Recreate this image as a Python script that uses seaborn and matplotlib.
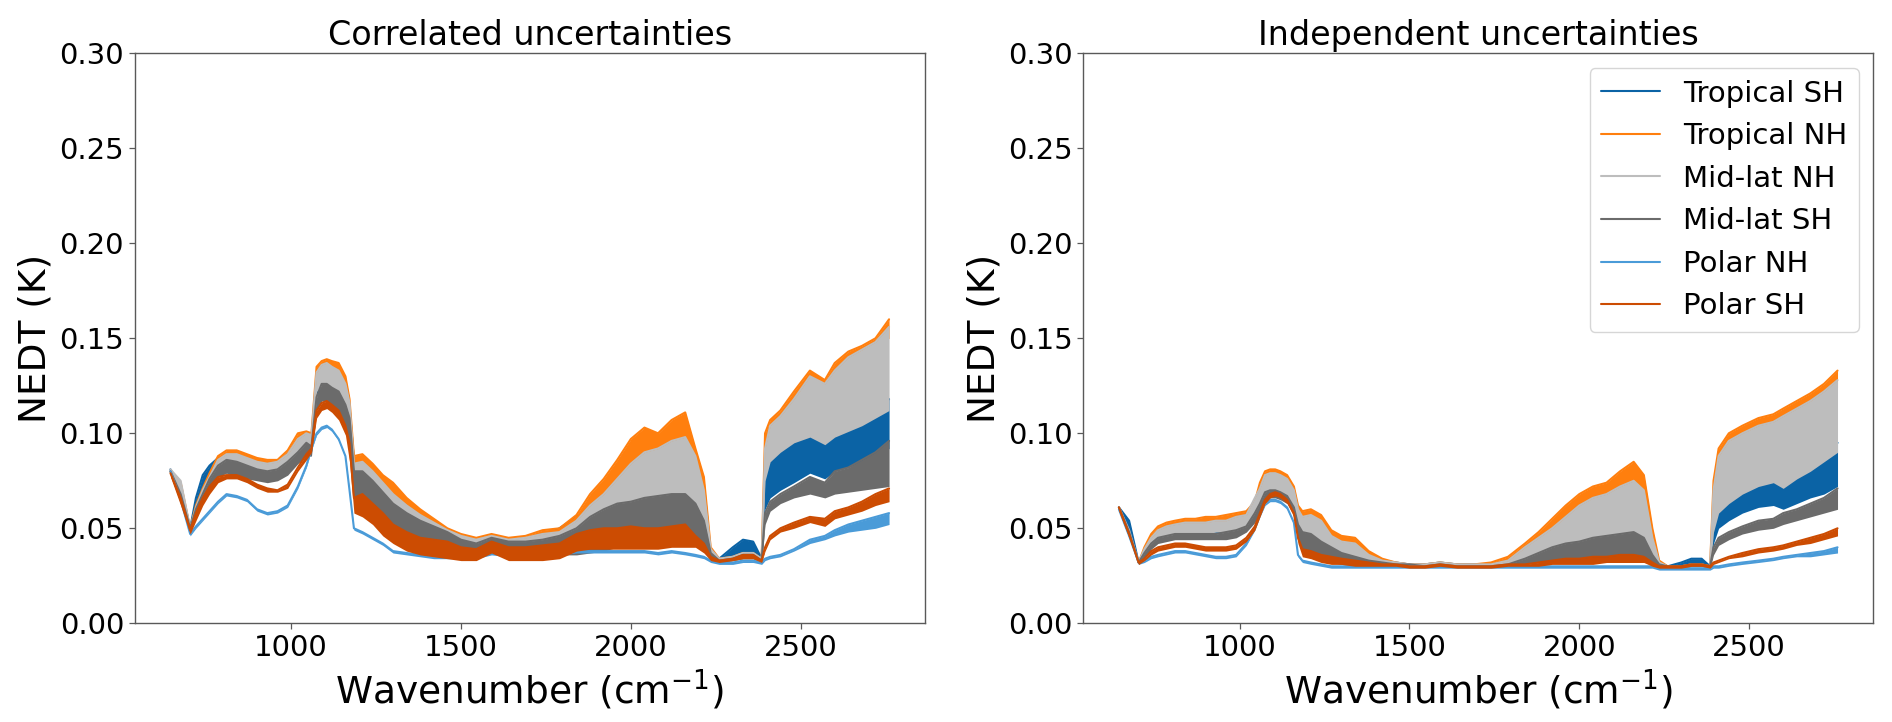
import matplotlib
matplotlib.use("Agg")
import pandas as pd
import matplotlib.pyplot as plt
import seaborn as sns

# wavenumber grid (cm-1) the envelopes were read at
WAVENUMBER = [
    645, 675, 703, 720, 740, 760, 785, 810, 840, 870,
    900, 930, 960, 990, 1020, 1045, 1060, 1075, 1090, 1105,
    1120, 1140, 1160, 1172, 1185, 1210, 1240, 1270, 1300, 1340,
    1380, 1420, 1460, 1500, 1545, 1590, 1640, 1690, 1740, 1790,
    1840, 1880, 1920, 1960, 2000, 2040, 2080, 2120, 2160, 2190,
    2215, 2235, 2260, 2300, 2330, 2360, 2385, 2395, 2410, 2440,
    2480, 2527, 2571, 2600, 2640, 2680, 2720, 2760,
]

REGIONS = ["Tropical SH", "Tropical NH", "Mid-lat NH", "Mid-lat SH", "Polar NH", "Polar SH"]
COLORS = ["#0b63a5", "#ff7f0e", "#bdbdbd", "#6b6b6b", "#4a9bd8", "#cc4c02"]

# ---- correlated uncertainties: upper / lower envelope of each spectrum (K)
corr_tsh_hi = [
    0.081, 0.072, 0.050, 0.066, 0.078, 0.083, 0.087, 0.088, 0.087, 0.086,
    0.084, 0.083, 0.084, 0.088, 0.093, 0.098, 0.096, 0.130, 0.132, 0.133,
    0.131, 0.128, 0.122, 0.114, 0.086, 0.086, 0.079, 0.072, 0.065, 0.059,
    0.055, 0.052, 0.049, 0.045, 0.043, 0.045, 0.044, 0.044, 0.046, 0.050,
    0.056, 0.062, 0.066, 0.068, 0.070, 0.074, 0.078, 0.080, 0.082, 0.076,
    0.060, 0.038, 0.034, 0.040, 0.044, 0.043, 0.034, 0.078, 0.087, 0.092,
    0.097, 0.100, 0.096, 0.100, 0.104, 0.108, 0.112, 0.118]
corr_tsh_lo = [
    0.078, 0.064, 0.048, 0.060, 0.070, 0.078, 0.082, 0.083, 0.082, 0.080,
    0.078, 0.077, 0.078, 0.081, 0.087, 0.091, 0.090, 0.120, 0.122, 0.122,
    0.120, 0.117, 0.108, 0.098, 0.064, 0.064, 0.058, 0.052, 0.047, 0.042,
    0.040, 0.038, 0.037, 0.035, 0.035, 0.039, 0.035, 0.035, 0.035, 0.036,
    0.037, 0.038, 0.039, 0.041, 0.042, 0.043, 0.045, 0.046, 0.047, 0.045,
    0.041, 0.034, 0.032, 0.034, 0.036, 0.036, 0.032, 0.060, 0.066, 0.070,
    0.074, 0.079, 0.076, 0.080, 0.082, 0.085, 0.088, 0.092]
corr_tnh_hi = [
    0.080, 0.074, 0.050, 0.062, 0.071, 0.079, 0.088, 0.091, 0.091, 0.089,
    0.087, 0.086, 0.086, 0.091, 0.100, 0.101, 0.100, 0.135, 0.138, 0.139,
    0.138, 0.137, 0.130, 0.118, 0.088, 0.089, 0.084, 0.078, 0.074, 0.066,
    0.060, 0.055, 0.050, 0.047, 0.045, 0.047, 0.045, 0.046, 0.049, 0.050,
    0.057, 0.068, 0.076, 0.086, 0.097, 0.103, 0.100, 0.107, 0.111, 0.092,
    0.077, 0.040, 0.034, 0.035, 0.037, 0.037, 0.034, 0.100, 0.107, 0.112,
    0.122, 0.133, 0.128, 0.137, 0.143, 0.146, 0.150, 0.160]
corr_tnh_lo = [
    0.078, 0.064, 0.048, 0.060, 0.068, 0.076, 0.084, 0.087, 0.087, 0.085,
    0.083, 0.082, 0.083, 0.086, 0.093, 0.095, 0.094, 0.125, 0.128, 0.129,
    0.127, 0.125, 0.115, 0.100, 0.068, 0.066, 0.060, 0.054, 0.048, 0.043,
    0.040, 0.038, 0.037, 0.035, 0.035, 0.039, 0.035, 0.035, 0.035, 0.036,
    0.037, 0.038, 0.040, 0.041, 0.042, 0.043, 0.045, 0.046, 0.047, 0.045,
    0.041, 0.034, 0.032, 0.033, 0.034, 0.034, 0.032, 0.090, 0.100, 0.106,
    0.116, 0.126, 0.124, 0.130, 0.136, 0.140, 0.144, 0.150]
corr_mnh_hi = [
    0.081, 0.075, 0.050, 0.061, 0.070, 0.077, 0.086, 0.089, 0.089, 0.087,
    0.085, 0.084, 0.085, 0.089, 0.097, 0.100, 0.099, 0.132, 0.136, 0.137,
    0.135, 0.133, 0.126, 0.116, 0.084, 0.085, 0.080, 0.074, 0.068, 0.062,
    0.057, 0.053, 0.049, 0.046, 0.044, 0.046, 0.044, 0.045, 0.047, 0.048,
    0.054, 0.062, 0.068, 0.076, 0.084, 0.090, 0.092, 0.096, 0.098, 0.088,
    0.070, 0.039, 0.034, 0.035, 0.037, 0.037, 0.034, 0.092, 0.104, 0.109,
    0.118, 0.130, 0.126, 0.133, 0.140, 0.144, 0.148, 0.156]
corr_mnh_lo = [
    0.078, 0.064, 0.048, 0.058, 0.066, 0.073, 0.082, 0.084, 0.083, 0.081,
    0.079, 0.078, 0.079, 0.083, 0.090, 0.093, 0.092, 0.122, 0.124, 0.124,
    0.122, 0.119, 0.110, 0.100, 0.064, 0.064, 0.058, 0.052, 0.047, 0.042,
    0.040, 0.038, 0.037, 0.035, 0.035, 0.039, 0.035, 0.035, 0.035, 0.036,
    0.037, 0.038, 0.040, 0.041, 0.042, 0.043, 0.045, 0.046, 0.047, 0.045,
    0.041, 0.034, 0.032, 0.033, 0.034, 0.034, 0.032, 0.075, 0.085, 0.090,
    0.095, 0.098, 0.094, 0.098, 0.101, 0.104, 0.108, 0.112]
corr_msh_hi = [
    0.080, 0.068, 0.050, 0.060, 0.068, 0.076, 0.083, 0.086, 0.085, 0.083,
    0.081, 0.080, 0.081, 0.085, 0.090, 0.095, 0.093, 0.119, 0.126, 0.126,
    0.124, 0.122, 0.115, 0.108, 0.080, 0.080, 0.075, 0.069, 0.063, 0.058,
    0.054, 0.051, 0.048, 0.044, 0.042, 0.045, 0.043, 0.043, 0.044, 0.046,
    0.050, 0.056, 0.060, 0.063, 0.064, 0.066, 0.067, 0.068, 0.068, 0.063,
    0.054, 0.037, 0.033, 0.034, 0.036, 0.036, 0.033, 0.058, 0.064, 0.068,
    0.072, 0.077, 0.074, 0.080, 0.082, 0.086, 0.090, 0.096]
corr_msh_lo = [
    0.078, 0.063, 0.048, 0.056, 0.064, 0.071, 0.077, 0.079, 0.077, 0.076,
    0.075, 0.074, 0.075, 0.078, 0.084, 0.088, 0.088, 0.112, 0.117, 0.117,
    0.115, 0.112, 0.104, 0.095, 0.062, 0.062, 0.056, 0.050, 0.046, 0.041,
    0.039, 0.038, 0.037, 0.035, 0.035, 0.039, 0.035, 0.035, 0.035, 0.036,
    0.036, 0.037, 0.038, 0.040, 0.041, 0.042, 0.044, 0.045, 0.046, 0.044,
    0.040, 0.034, 0.032, 0.033, 0.034, 0.034, 0.032, 0.052, 0.059, 0.063,
    0.066, 0.068, 0.066, 0.068, 0.069, 0.070, 0.071, 0.072]
corr_pnh_hi = [
    0.080, 0.065, 0.047, 0.051, 0.055, 0.059, 0.064, 0.068, 0.067, 0.065,
    0.060, 0.058, 0.059, 0.062, 0.072, 0.083, 0.092, 0.100, 0.103, 0.104,
    0.102, 0.097, 0.088, 0.070, 0.050, 0.048, 0.045, 0.042, 0.038, 0.037,
    0.036, 0.035, 0.035, 0.035, 0.035, 0.037, 0.036, 0.036, 0.037, 0.037,
    0.038, 0.038, 0.038, 0.038, 0.038, 0.038, 0.037, 0.038, 0.037, 0.036,
    0.035, 0.033, 0.032, 0.032, 0.033, 0.033, 0.032, 0.034, 0.035, 0.036,
    0.039, 0.044, 0.046, 0.049, 0.052, 0.054, 0.056, 0.058]
corr_pnh_lo = [
    0.078, 0.063, 0.046, 0.050, 0.054, 0.058, 0.063, 0.067, 0.066, 0.064,
    0.059, 0.057, 0.058, 0.061, 0.071, 0.082, 0.091, 0.099, 0.102, 0.103,
    0.101, 0.096, 0.087, 0.069, 0.049, 0.047, 0.044, 0.041, 0.037, 0.036,
    0.035, 0.034, 0.034, 0.034, 0.034, 0.036, 0.035, 0.035, 0.036, 0.036,
    0.037, 0.037, 0.037, 0.037, 0.037, 0.037, 0.036, 0.037, 0.036, 0.035,
    0.034, 0.032, 0.031, 0.031, 0.032, 0.032, 0.031, 0.033, 0.034, 0.035,
    0.038, 0.042, 0.044, 0.046, 0.048, 0.049, 0.050, 0.052]
corr_psh_hi = [
    0.079, 0.066, 0.049, 0.058, 0.066, 0.072, 0.077, 0.078, 0.078, 0.076,
    0.073, 0.071, 0.070, 0.073, 0.082, 0.089, 0.092, 0.112, 0.116, 0.117,
    0.115, 0.112, 0.104, 0.095, 0.066, 0.068, 0.063, 0.058, 0.052, 0.048,
    0.045, 0.044, 0.043, 0.040, 0.039, 0.043, 0.040, 0.040, 0.041, 0.042,
    0.047, 0.049, 0.050, 0.050, 0.051, 0.050, 0.050, 0.051, 0.052, 0.046,
    0.042, 0.035, 0.033, 0.034, 0.036, 0.036, 0.033, 0.040, 0.046, 0.050,
    0.053, 0.056, 0.055, 0.059, 0.061, 0.064, 0.068, 0.071]
corr_psh_lo = [
    0.077, 0.062, 0.047, 0.054, 0.062, 0.068, 0.074, 0.076, 0.076, 0.074,
    0.071, 0.069, 0.069, 0.071, 0.080, 0.086, 0.090, 0.108, 0.112, 0.113,
    0.111, 0.107, 0.099, 0.085, 0.058, 0.056, 0.052, 0.046, 0.042, 0.038,
    0.036, 0.035, 0.034, 0.033, 0.033, 0.037, 0.033, 0.033, 0.033, 0.034,
    0.038, 0.039, 0.039, 0.039, 0.039, 0.039, 0.039, 0.040, 0.040, 0.040,
    0.037, 0.033, 0.032, 0.033, 0.034, 0.034, 0.032, 0.038, 0.044, 0.048,
    0.050, 0.053, 0.051, 0.055, 0.057, 0.059, 0.062, 0.064]

# ---- independent uncertainties
ind_tsh_hi = [
    0.061, 0.054, 0.032, 0.038, 0.044, 0.047, 0.049, 0.050, 0.050, 0.050,
    0.050, 0.050, 0.051, 0.052, 0.054, 0.060, 0.068, 0.074, 0.076, 0.076,
    0.075, 0.073, 0.067, 0.058, 0.053, 0.054, 0.050, 0.045, 0.042, 0.040,
    0.036, 0.033, 0.032, 0.031, 0.031, 0.032, 0.031, 0.031, 0.031, 0.033,
    0.038, 0.043, 0.047, 0.052, 0.056, 0.060, 0.062, 0.066, 0.068, 0.063,
    0.042, 0.032, 0.030, 0.032, 0.034, 0.034, 0.030, 0.050, 0.060, 0.065,
    0.070, 0.074, 0.076, 0.073, 0.078, 0.082, 0.088, 0.095]
ind_tsh_lo = [
    0.059, 0.045, 0.031, 0.035, 0.040, 0.044, 0.046, 0.047, 0.047, 0.047,
    0.047, 0.047, 0.048, 0.049, 0.051, 0.055, 0.062, 0.070, 0.071, 0.071,
    0.070, 0.068, 0.060, 0.045, 0.040, 0.039, 0.036, 0.034, 0.032, 0.031,
    0.030, 0.030, 0.030, 0.030, 0.030, 0.031, 0.030, 0.030, 0.030, 0.030,
    0.031, 0.032, 0.032, 0.033, 0.033, 0.034, 0.034, 0.035, 0.035, 0.034,
    0.032, 0.030, 0.029, 0.030, 0.031, 0.031, 0.029, 0.042, 0.050, 0.054,
    0.058, 0.061, 0.062, 0.060, 0.063, 0.066, 0.068, 0.072]
ind_tnh_hi = [
    0.061, 0.048, 0.032, 0.040, 0.047, 0.051, 0.053, 0.054, 0.055, 0.055,
    0.056, 0.056, 0.057, 0.058, 0.059, 0.064, 0.074, 0.080, 0.081, 0.081,
    0.080, 0.078, 0.072, 0.062, 0.059, 0.060, 0.057, 0.049, 0.046, 0.045,
    0.038, 0.034, 0.032, 0.031, 0.031, 0.032, 0.031, 0.031, 0.032, 0.035,
    0.042, 0.048, 0.055, 0.062, 0.068, 0.072, 0.074, 0.080, 0.085, 0.078,
    0.050, 0.033, 0.030, 0.030, 0.031, 0.031, 0.030, 0.075, 0.092, 0.100,
    0.104, 0.108, 0.110, 0.113, 0.117, 0.121, 0.126, 0.133]
ind_tnh_lo = [
    0.059, 0.045, 0.031, 0.037, 0.044, 0.048, 0.050, 0.051, 0.052, 0.052,
    0.052, 0.053, 0.053, 0.055, 0.056, 0.060, 0.069, 0.075, 0.077, 0.077,
    0.076, 0.074, 0.067, 0.055, 0.045, 0.044, 0.040, 0.036, 0.033, 0.032,
    0.031, 0.030, 0.030, 0.030, 0.030, 0.031, 0.030, 0.030, 0.030, 0.031,
    0.033, 0.035, 0.036, 0.038, 0.040, 0.042, 0.044, 0.046, 0.048, 0.045,
    0.036, 0.031, 0.029, 0.029, 0.030, 0.030, 0.029, 0.068, 0.086, 0.094,
    0.098, 0.102, 0.104, 0.107, 0.110, 0.114, 0.118, 0.124]
ind_mnh_hi = [
    0.061, 0.049, 0.032, 0.039, 0.045, 0.049, 0.051, 0.052, 0.053, 0.053,
    0.053, 0.054, 0.054, 0.056, 0.057, 0.066, 0.071, 0.078, 0.079, 0.079,
    0.078, 0.076, 0.070, 0.060, 0.056, 0.057, 0.054, 0.046, 0.043, 0.042,
    0.036, 0.033, 0.032, 0.031, 0.031, 0.032, 0.031, 0.031, 0.031, 0.033,
    0.040, 0.045, 0.050, 0.056, 0.062, 0.066, 0.068, 0.072, 0.075, 0.070,
    0.045, 0.032, 0.030, 0.030, 0.031, 0.031, 0.030, 0.070, 0.088, 0.096,
    0.100, 0.104, 0.106, 0.109, 0.113, 0.117, 0.122, 0.128]
ind_mnh_lo = [
    0.059, 0.045, 0.031, 0.035, 0.040, 0.044, 0.046, 0.047, 0.047, 0.047,
    0.047, 0.048, 0.048, 0.049, 0.050, 0.055, 0.062, 0.068, 0.070, 0.070,
    0.069, 0.067, 0.060, 0.045, 0.040, 0.039, 0.036, 0.034, 0.032, 0.031,
    0.030, 0.030, 0.030, 0.030, 0.030, 0.031, 0.030, 0.030, 0.030, 0.030,
    0.031, 0.032, 0.033, 0.034, 0.035, 0.036, 0.037, 0.038, 0.039, 0.037,
    0.033, 0.030, 0.029, 0.029, 0.030, 0.030, 0.029, 0.048, 0.058, 0.063,
    0.068, 0.072, 0.074, 0.071, 0.076, 0.080, 0.085, 0.090]
ind_msh_hi = [
    0.061, 0.048, 0.032, 0.037, 0.042, 0.045, 0.046, 0.047, 0.047, 0.047,
    0.047, 0.047, 0.048, 0.049, 0.051, 0.058, 0.063, 0.069, 0.070, 0.070,
    0.069, 0.067, 0.061, 0.052, 0.048, 0.047, 0.043, 0.040, 0.037, 0.035,
    0.033, 0.032, 0.031, 0.031, 0.030, 0.031, 0.030, 0.030, 0.030, 0.031,
    0.034, 0.037, 0.040, 0.042, 0.043, 0.045, 0.046, 0.047, 0.048, 0.045,
    0.036, 0.031, 0.030, 0.030, 0.031, 0.031, 0.030, 0.040, 0.045, 0.048,
    0.051, 0.054, 0.055, 0.058, 0.060, 0.063, 0.066, 0.071]
ind_msh_lo = [
    0.059, 0.045, 0.031, 0.034, 0.039, 0.042, 0.043, 0.044, 0.044, 0.044,
    0.044, 0.044, 0.044, 0.045, 0.048, 0.053, 0.058, 0.064, 0.066, 0.066,
    0.065, 0.063, 0.057, 0.045, 0.039, 0.037, 0.034, 0.032, 0.031, 0.030,
    0.030, 0.030, 0.030, 0.030, 0.030, 0.030, 0.030, 0.030, 0.030, 0.030,
    0.031, 0.032, 0.033, 0.034, 0.034, 0.035, 0.035, 0.036, 0.036, 0.035,
    0.032, 0.030, 0.029, 0.029, 0.030, 0.030, 0.029, 0.036, 0.041, 0.044,
    0.047, 0.049, 0.050, 0.052, 0.054, 0.056, 0.058, 0.060]
ind_pnh_hi = [
    0.060, 0.046, 0.032, 0.033, 0.035, 0.036, 0.037, 0.038, 0.038, 0.037,
    0.036, 0.035, 0.035, 0.036, 0.042, 0.050, 0.057, 0.063, 0.065, 0.065,
    0.064, 0.061, 0.053, 0.036, 0.033, 0.032, 0.031, 0.030, 0.030, 0.030,
    0.030, 0.030, 0.030, 0.030, 0.030, 0.030, 0.030, 0.030, 0.030, 0.030,
    0.030, 0.030, 0.030, 0.030, 0.030, 0.030, 0.030, 0.030, 0.030, 0.030,
    0.030, 0.029, 0.029, 0.029, 0.029, 0.029, 0.029, 0.030, 0.030, 0.031,
    0.032, 0.033, 0.034, 0.035, 0.036, 0.037, 0.038, 0.040]
ind_pnh_lo = [
    0.059, 0.045, 0.031, 0.032, 0.034, 0.035, 0.036, 0.037, 0.037, 0.036,
    0.035, 0.034, 0.034, 0.035, 0.041, 0.049, 0.056, 0.062, 0.064, 0.064,
    0.063, 0.060, 0.052, 0.035, 0.032, 0.031, 0.030, 0.029, 0.029, 0.029,
    0.029, 0.029, 0.029, 0.029, 0.029, 0.029, 0.029, 0.029, 0.029, 0.029,
    0.029, 0.029, 0.029, 0.029, 0.029, 0.029, 0.029, 0.029, 0.029, 0.029,
    0.029, 0.028, 0.028, 0.028, 0.028, 0.028, 0.028, 0.029, 0.029, 0.030,
    0.031, 0.032, 0.033, 0.034, 0.035, 0.035, 0.036, 0.037]
ind_psh_hi = [
    0.061, 0.047, 0.032, 0.034, 0.038, 0.040, 0.041, 0.042, 0.042, 0.041,
    0.040, 0.040, 0.040, 0.041, 0.045, 0.051, 0.058, 0.065, 0.068, 0.069,
    0.068, 0.065, 0.058, 0.045, 0.039, 0.038, 0.036, 0.035, 0.034, 0.033,
    0.032, 0.031, 0.031, 0.030, 0.030, 0.031, 0.030, 0.030, 0.030, 0.031,
    0.031, 0.032, 0.033, 0.034, 0.034, 0.035, 0.035, 0.036, 0.036, 0.035,
    0.032, 0.030, 0.030, 0.030, 0.031, 0.031, 0.030, 0.032, 0.033, 0.035,
    0.037, 0.039, 0.040, 0.041, 0.043, 0.045, 0.047, 0.050]
ind_psh_lo = [
    0.059, 0.045, 0.031, 0.033, 0.036, 0.038, 0.039, 0.040, 0.040, 0.039,
    0.038, 0.038, 0.038, 0.039, 0.043, 0.049, 0.056, 0.063, 0.066, 0.067,
    0.066, 0.063, 0.056, 0.042, 0.035, 0.034, 0.032, 0.031, 0.031, 0.030,
    0.030, 0.030, 0.030, 0.029, 0.029, 0.030, 0.029, 0.029, 0.029, 0.030,
    0.030, 0.030, 0.031, 0.031, 0.031, 0.031, 0.032, 0.032, 0.032, 0.032,
    0.030, 0.029, 0.029, 0.029, 0.030, 0.030, 0.029, 0.031, 0.032, 0.034,
    0.035, 0.037, 0.038, 0.039, 0.041, 0.042, 0.044, 0.046]

CORRELATED = [(corr_tsh_hi, corr_tsh_lo), (corr_tnh_hi, corr_tnh_lo),
              (corr_mnh_hi, corr_mnh_lo), (corr_msh_hi, corr_msh_lo),
              (corr_pnh_hi, corr_pnh_lo), (corr_psh_hi, corr_psh_lo)]
INDEPENDENT = [(ind_tsh_hi, ind_tsh_lo), (ind_tnh_hi, ind_tnh_lo),
               (ind_mnh_hi, ind_mnh_lo), (ind_msh_hi, ind_msh_lo),
               (ind_pnh_hi, ind_pnh_lo), (ind_psh_hi, ind_psh_lo)]


def to_frame(envelopes):
    rows = []
    for region, (hi, lo) in zip(REGIONS, envelopes):
        assert len(hi) == len(WAVENUMBER) and len(lo) == len(WAVENUMBER), region
        for wn, h, l in zip(WAVENUMBER, hi, lo):
            rows.append((region, wn, h))
            rows.append((region, wn, l))
    return pd.DataFrame(rows, columns=["region", "wavenumber", "nedt"])


def draw_panel(ax, df, title, legend=False):
    for i, (region, color) in enumerate(zip(REGIONS, COLORS)):
        sub = df[df["region"] == region]
        # line follows the spike tops, band fills down to the spike bottoms
        sns.lineplot(data=sub, x="wavenumber", y="nedt", ax=ax,
                     estimator="max", errorbar=("pi", 100),
                     color=color, linewidth=1.5, label=region,
                     zorder=2 + i, legend=False,
                     err_kws={"alpha": 1, "linewidth": 0, "zorder": 2 + i})
    ax.set_ylim(0, 0.30)
    ax.set_yticks([0.0, 0.05, 0.10, 0.15, 0.20, 0.25, 0.30])
    ax.set_title(title, fontsize=24, color="black")
    ax.set_xlabel("Wavenumber (cm$^{-1}$)", fontsize=27, color="black")
    ax.set_ylabel("NEDT (K)", fontsize=27, color="black")
    ax.tick_params(labelsize=21, length=4, width=0.9, color="0.35",
                   labelcolor="black")
    for spine in ax.spines.values():
        spine.set_visible(True)
        spine.set_color("0.35")
        spine.set_linewidth(1.0)
    if legend:
        leg = ax.legend(loc="upper right", fontsize=21)
        for text in leg.get_texts():
            text.set_color("black")


sns.set_style("ticks")
plt.rcParams["font.family"] = ["DejaVu Sans"]
plt.rcParams["text.color"] = "black"

fig = plt.figure(figsize=(18.92, 7.22), dpi=100)
ax1 = fig.add_axes([0.0711, 0.1367, 0.4178, 0.7895])
ax2 = fig.add_axes([0.5724, 0.1367, 0.4178, 0.7895])

draw_panel(ax1, to_frame(CORRELATED), "Correlated uncertainties")
draw_panel(ax2, to_frame(INDEPENDENT), "Independent uncertainties", legend=True)

fig.savefig("out.png", dpi=100)
plt.close(fig)
